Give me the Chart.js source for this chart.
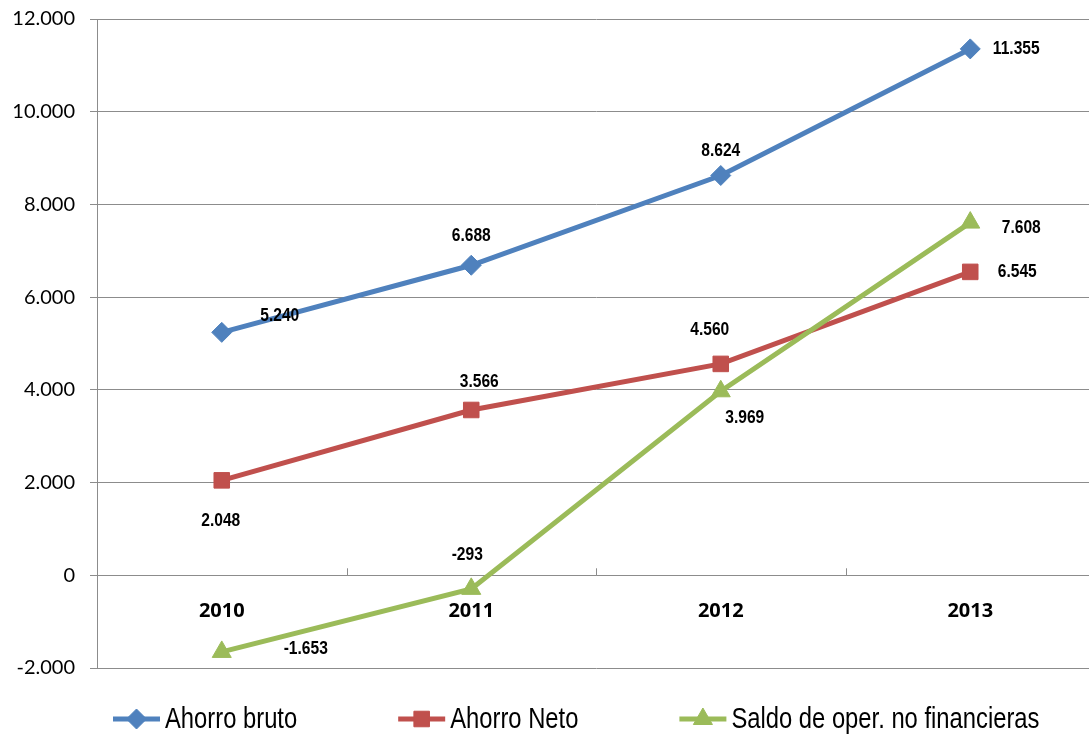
<!DOCTYPE html>
<html>
<head>
<meta charset="utf-8">
<script src="https://cdn.jsdelivr.net/npm/chart.js@4.4.1/dist/chart.umd.min.js"></script>
<style>
  html, body { margin: 0; padding: 0; background: #fff; overflow: hidden; }
  #wrap { width: 1107px; height: 747px; margin-top: -8px; }
</style>
</head>
<body>
<div id="wrap"><canvas id="chart" width="1107" height="747"></canvas></div>
<script>
// chart data
const years = ['2010', '2011', '2012', '2013'];
const ahorroBruto = [5240, 6688, 8624, 11355];
const ahorroNeto = [2048, 3566, 4560, 6545];
const saldoOper = [-1653, -293, 3969, 7608];
const seriesNames = ['Ahorro bruto', 'Ahorro Neto', 'Saldo de oper. no financieras'];
const yTicks = [-2000, 0, 2000, 4000, 6000, 8000, 10000, 12000];

const colors = ['#4F81BD', '#C0504D', '#9BBB59'];
const markers = ['rectRot', 'rect', 'triangle'];
const markerSize = [10, 11, 11];

// label offsets (px) relative to each point, like the Excel layout
const labelOffsets = [
    [[58, -17], [0, -29], [0, -25], [46, 0]],
    [[-1, 40], [8, -28], [-11, -34], [47, 0]],
    [[84, -3], [-4, -34], [24, 26], [51, 5]]
];

// no narrow font installed -> squeeze Liberation Sans horizontally
const NARROW = 0.82;
const LABEL_FONT = '"Liberation Sans", Arial, sans-serif';

// thousands separator with a dot
function fmt(v) {
    const s = Math.abs(v).toString().replace(/\B(?=(\d{3})+(?!\d))/g, '.');
    return (v < 0 ? '-' : '') + s;
}

function narrowText(ctx, text, x, y, align) {
    ctx.save();
    ctx.translate(x, y);
    ctx.scale(NARROW, 1);
    ctx.textAlign = align;
    ctx.fillText(text, 0, 0);
    ctx.restore();
}

// value labels next to the points
const valueLabels = {
    id: 'valueLabels',
    afterDatasetsDraw(chart) {
        const ctx = chart.ctx;
        ctx.save();
        ctx.font = 'bold 19px ' + LABEL_FONT;
        ctx.fillStyle = '#000';
        ctx.textBaseline = 'middle';
        chart.data.datasets.forEach((ds, i) => {
            const meta = chart.getDatasetMeta(i);
            meta.data.forEach((pt, j) => {
                const off = labelOffsets[i][j];
                narrowText(ctx, fmt(ds.data[j]), pt.x + off[0], pt.y + off[1], 'center');
            });
        });
        ctx.restore();
    }
};

// small tick marks on the zero line between categories (pointing up)
const zeroTicks = {
    id: 'zeroTicks',
    afterDraw(chart) {
        const x = chart.scales.x, y = chart.scales.y;
        const y0 = y.getPixelForValue(0);
        const ctx = chart.ctx;
        ctx.save();
        ctx.strokeStyle = '#8c8c8c';
        ctx.lineWidth = 1;
        for (let i = 0; i < years.length - 1; i++) {
            const px = Math.round((x.getPixelForValue(i) + x.getPixelForValue(i + 1)) / 2) + 0.5;
            ctx.beginPath();
            ctx.moveTo(px, y0);
            ctx.lineTo(px, y0 - 7);
            ctx.stroke();
        }
        ctx.restore();
    }
};

// legend drawn like Excel: line with the marker in the middle
const excelLegend = {
    id: 'excelLegend',
    afterDraw(chart) {
        const ctx = chart.ctx;
        ctx.save();
        ctx.font = '29px ' + LABEL_FONT;
        ctx.textBaseline = 'middle';
        const yMid = chart.chartArea.bottom + 51;
        let x = 113;
        chart.data.datasets.forEach((ds, i) => {
            ctx.strokeStyle = colors[i];
            ctx.lineWidth = 5;
            ctx.beginPath();
            ctx.moveTo(x, yMid);
            ctx.lineTo(x + 47, yMid);
            ctx.stroke();
            ctx.fillStyle = colors[i];
            ctx.lineWidth = 1;
            Chart.helpers.drawPoint(ctx, { pointStyle: markers[i], radius: markerSize[i], borderWidth: 1 }, x + 23.5, yMid);
            ctx.fillStyle = '#000';
            narrowText(ctx, ds.label, x + 52, yMid + 1, 'left');
            x += 52 + ctx.measureText(ds.label).width * NARROW + 101;
        });
        ctx.restore();
    }
};

const seriesData = [ahorroBruto, ahorroNeto, saldoOper];

new Chart(document.getElementById('chart').getContext('2d'), {
    type: 'line',
    data: {
        labels: years,
        datasets: seriesData.map((d, i) => ({
            label: seriesNames[i],
            data: d,
            borderColor: colors[i],
            backgroundColor: colors[i],
            borderWidth: 5,
            tension: 0,
            pointStyle: markers[i],
            pointRadius: markerSize[i],
            pointHoverRadius: markerSize[i],
            pointBorderWidth: 1,
            order: 3 - i
        }))
    },
    options: {
        responsive: false,
        animation: false,
        devicePixelRatio: 1,
        layout: { padding: { top: 11, bottom: 71, left: 0, right: 0 } },
        plugins: {
            legend: { display: false },
            tooltip: { enabled: false }
        },
        scales: {
            x: {
                position: { y: 0 },
                offset: true,
                grid: { display: false },
                border: { display: true, color: '#8c8c8c', width: 1 },
                ticks: {
                    padding: 16,
                    color: '#000',
                    font: { family: '"Open Sans"', size: 20, weight: '700' }
                }
            },
            y: {
                min: -2000,
                max: 12000,
                afterBuildTicks(scale) {
                    scale.ticks = yTicks.map(v => ({ value: v }));
                },
                afterFit(scale) { scale.width = 97; },
                grid: { color: '#8c8c8c', lineWidth: 1, tickLength: 7 },
                border: { display: true, color: '#8c8c8c', width: 1 },
                ticks: {
                    padding: 15,
                    color: '#000',
                    font: { family: 'Lato', size: 20 },
                    callback: v => fmt(v)
                }
            }
        }
    },
    plugins: [valueLabels, zeroTicks, excelLegend]
});
</script>
</body>
</html>
